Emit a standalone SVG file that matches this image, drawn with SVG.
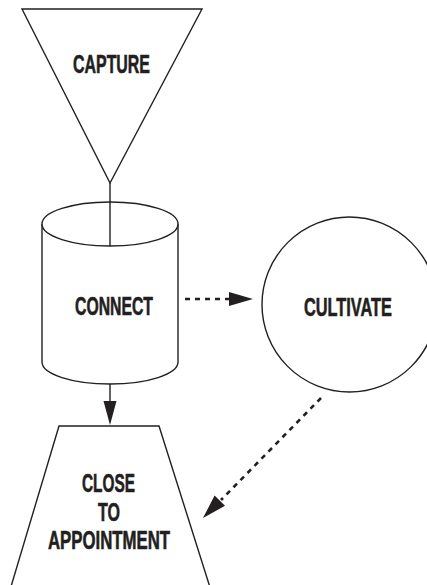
<svg xmlns="http://www.w3.org/2000/svg" width="427" height="585" viewBox="0 0 427 585">
<style>
.shape{fill:#fff;stroke:#231f20;stroke-width:1.4}
.lbl{font-family:"Liberation Sans Narrow","Liberation Sans",Arial,sans-serif;font-weight:bold;font-size:25px;fill:#231f20;stroke:#231f20;stroke-width:0.6;text-anchor:middle}
.solid{stroke:#231f20;stroke-width:1.4;fill:none}
.dash{stroke:#231f20;stroke-width:2.6;fill:none;stroke-dasharray:5 5}
.head{fill:#231f20;stroke:none}
</style>
<rect width="427" height="585" fill="#fff"/>
<g id="capture">
<polygon class="shape" points="22,9 202,9 110,183"/>
<text class="lbl" x="111.5" y="73" textLength="77" lengthAdjust="spacingAndGlyphs">CAPTURE</text>
</g>
<g id="connect">
<path class="shape" d="M42,224 L42,362 A68,22 0 0 0 178,362 L178,224"/>
<ellipse class="shape" cx="110" cy="224" rx="68" ry="22"/>
<text class="lbl" x="114" y="315" textLength="78" lengthAdjust="spacingAndGlyphs">CONNECT</text>
</g>
<g id="cultivate">
<circle class="shape" cx="349.5" cy="304.5" r="87.5"/>
<text class="lbl" x="348" y="316" textLength="88" lengthAdjust="spacingAndGlyphs">CULTIVATE</text>
</g>
<g id="close">
<polygon class="shape" points="59,426 159,426 214,600 7,600"/>
<text class="lbl" x="108.5" y="492" textLength="53" lengthAdjust="spacingAndGlyphs">CLOSE</text>
<text class="lbl" x="109" y="521" textLength="22" lengthAdjust="spacingAndGlyphs">TO</text>
<text class="lbl" x="109" y="549" textLength="122" lengthAdjust="spacingAndGlyphs">APPOINTMENT</text>
</g>
<g id="connectors">
<line class="solid" x1="110" y1="183" x2="110" y2="246"/>
<line class="solid" x1="110" y1="384" x2="110" y2="402"/>
<polygon class="head" points="103.5,401 116.5,401 110,425"/>
<line class="dash" x1="185" y1="299" x2="230" y2="299"/>
<polygon class="head" points="229,292 253,299 229,306"/>
<line class="dash" x1="321" y1="398" x2="221" y2="500"/>
<polygon class="head" points="203,518 214.6,495.6 225,505.8"/>
</g>
</svg>
